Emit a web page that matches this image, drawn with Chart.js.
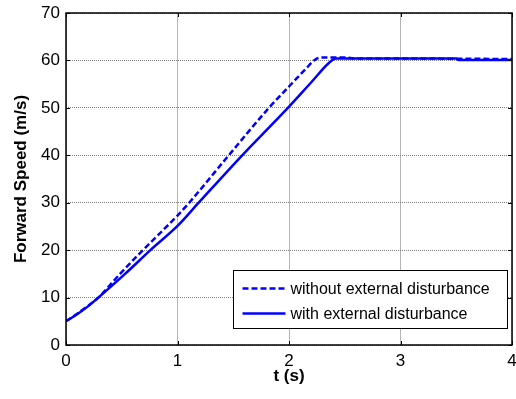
<!DOCTYPE html>
<html>
<head>
<meta charset="utf-8">
<script src="https://cdn.jsdelivr.net/npm/chart.js@4.4.1/dist/chart.umd.min.js"></script>
<style>
html,body{margin:0;padding:0;background:#fff;}
#wrap{width:516px;height:399px;}
</style>
</head>
<body>
<div id="wrap"><canvas id="c" width="516" height="399"></canvas></div>
<script>
const seriesLabels = ['without external disturbance', 'with external disturbance'];
const timeWithout  = [0, 0.1, 0.2, 0.29, 0.485, 0.69, 1.0, 1.105, 1.46, 1.82, 2.0, 2.15, 2.23, 2.28, 2.5, 2.6, 3.0, 4.0];
const speedWithout = [5, 6.6, 8.3, 10, 15, 20, 27.3, 30, 40, 50, 54.5, 58.2, 60.1, 60.6, 60.6, 60.4, 60.4, 60.3];
const timeWith     = [0, 0.1, 0.2, 0.29, 0.53, 0.757, 1.0, 1.19, 1.58, 1.99, 2.2, 2.36, 2.42, 2.6, 3.5, 3.52, 4.0];
const speedWith    = [5, 6.5, 8.2, 10, 15, 20, 25.1, 30, 40, 50, 55.4, 59.5, 60.4, 60.4, 60.4, 60.1, 60.1];
const xTicks = [0, 1, 2, 3, 4];
const yTicks = [0, 10, 20, 30, 40, 50, 60, 70];

const FONT = "'Liberation Sans', Arial, sans-serif";

const toPts = (xs, ys) => xs.map((x, i) => ({x: x, y: ys[i]}));

const frameTicks = {
  id: 'frameTicks',
  afterDatasetsDraw(chart) {
    const {ctx, chartArea: a, scales: {x, y}} = chart;
    ctx.save();
    ctx.strokeStyle = '#000';
    ctx.lineWidth = 1;
    const L = 4;
    ctx.beginPath();
    xTicks.forEach(v => {
      const px = Math.round(x.getPixelForValue(v)) + 0.5;
      ctx.moveTo(px, a.bottom); ctx.lineTo(px, a.bottom - L);
      ctx.moveTo(px, a.top); ctx.lineTo(px, a.top + L);
    });
    yTicks.forEach(v => {
      const py = Math.round(y.getPixelForValue(v)) + 0.5;
      ctx.moveTo(a.left, py); ctx.lineTo(a.left + L, py);
      ctx.moveTo(a.right, py); ctx.lineTo(a.right - L, py);
    });
    ctx.stroke();
    ctx.lineWidth = 1.5;
    ctx.strokeRect(a.left, a.top, a.right - a.left, a.bottom - a.top);
    ctx.restore();
  },
  afterDraw(chart) {
    const {ctx, chartArea: a} = chart;
    const w = 274, h = 58;
    const bx = Math.round(a.right - 5 - w) + 0.5;
    const by = Math.round(a.bottom - 17 - h) + 0.5;
    ctx.save();
    ctx.fillStyle = '#fff';
    ctx.fillRect(bx, by, w, h);
    ctx.strokeStyle = '#000';
    ctx.lineWidth = 1;
    ctx.strokeRect(bx, by, w, h);
    chart.data.datasets.forEach((ds, i) => {
      const cy = by + 18 + i * 25;
      ctx.strokeStyle = ds.borderColor;
      ctx.lineWidth = ds.borderWidth;
      ctx.setLineDash(ds.borderDash || []);
      ctx.beginPath();
      ctx.moveTo(bx + 9, cy);
      ctx.lineTo(bx + 52, cy);
      ctx.stroke();
      ctx.setLineDash([]);
      ctx.fillStyle = '#000';
      ctx.font = '16px ' + FONT;
      ctx.textBaseline = 'middle';
      ctx.fillText(ds.label, bx + 57, cy + 1);
    });
    ctx.restore();
  }
};

new Chart(document.getElementById('c'), {
  type: 'line',
  data: {
    datasets: [
      {label: seriesLabels[0], data: toPts(timeWithout, speedWithout), borderColor: '#0000ff', borderWidth: 2.5, borderDash: [6, 3], pointRadius: 0, cubicInterpolationMode: 'monotone', fill: false},
      {label: seriesLabels[1], data: toPts(timeWith, speedWith), borderColor: '#0000ff', borderWidth: 2.5, pointRadius: 0, cubicInterpolationMode: 'monotone', fill: false}
    ]
  },
  options: {
    responsive: false,
    animation: false,
    layout: {padding: {top: 13, right: 4, left: 0, bottom: 0}},
    plugins: {legend: {display: false}, tooltip: {enabled: false}},
    scales: {
      x: {
        type: 'linear', min: 0, max: 4,
        afterBuildTicks: s => { s.ticks = xTicks.map(v => ({value: v})); },
        afterFit: s => { s.height = 54; s.paddingLeft = 0; s.paddingRight = 0; },
        grid: {color: '#b4b4b4', lineWidth: 1, drawTicks: false},
        border: {display: false},
        ticks: {padding: 6, color: '#000', font: {family: FONT, size: 17}},
        title: {display: true, text: 't (s)', color: '#000', font: {family: FONT, size: 17, weight: 'bold'}, padding: {top: 0, bottom: 12}}
      },
      y: {
        type: 'linear', min: 0, max: 70,
        afterBuildTicks: s => { s.ticks = yTicks.map(v => ({value: v})); },
        afterFit: s => { s.width = 66; s.paddingTop = 0; s.paddingBottom = 0; },
        grid: {color: '#808080', lineWidth: 1, drawTicks: false},
        border: {display: false, dash: [1, 1]},
        ticks: {padding: 6, color: '#000', font: {family: FONT, size: 17}},
        title: {display: true, text: 'Forward Speed (m/s)', color: '#000', font: {family: FONT, size: 17, weight: 'bold'}, padding: {top: 11, bottom: 0}}
      }
    }
  },
  plugins: [frameTicks]
});
</script>
</body>
</html>
